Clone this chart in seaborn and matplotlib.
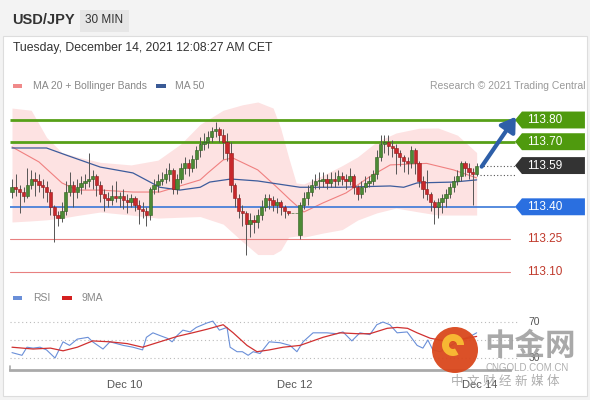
import matplotlib
matplotlib.use("Agg")
import matplotlib.pyplot as plt
import seaborn as sns
from matplotlib.patches import Polygon, Rectangle, Circle, Wedge
from matplotlib.transforms import IdentityTransform

# ---- data (30 min candles, USD/JPY) ----
opens = [113.47, 113.49, 113.48, 113.47, 113.45, 113.50, 113.53, 113.52, 113.50, 113.49,
         113.47, 113.40, 113.36, 113.35, 113.38, 113.47, 113.50, 113.47, 113.49, 113.51,
         113.52, 113.53, 113.54, 113.50, 113.46, 113.44, 113.43, 113.45, 113.44, 113.45,
         113.43, 113.42, 113.44, 113.41, 113.39, 113.38, 113.36, 113.48, 113.50, 113.52,
         113.53, 113.55, 113.57, 113.48, 113.53, 113.58, 113.60, 113.58, 113.62, 113.66,
         113.69, 113.70, 113.72, 113.75, 113.76, 113.73, 113.70, 113.65, 113.50, 113.44,
         113.38, 113.37, 113.32, 113.34, 113.33, 113.36, 113.40, 113.44, 113.43, 113.41,
         113.42, 113.40, 113.38, 113.37, 113.37, 113.27, 113.41, 113.44, 113.47, 113.50,
         113.52, 113.52, 113.53, 113.51, 113.53, 113.52, 113.54, 113.53, 113.52, 113.54,
         113.49, 113.46, 113.49, 113.51, 113.52, 113.55, 113.63, 113.69, 113.70, 113.68,
         113.67, 113.65, 113.63, 113.61, 113.60, 113.66, 113.60, 113.52, 113.48, 113.46,
         113.42, 113.40, 113.42, 113.44, 113.46, 113.49, 113.52, 113.54, 113.60, 113.58,
         113.56, 113.55]
closes = [113.49, 113.48, 113.47, 113.45, 113.50, 113.53, 113.52, 113.50, 113.49, 113.47,
          113.40, 113.36, 113.35, 113.38, 113.47, 113.50, 113.47, 113.49, 113.51, 113.52,
          113.53, 113.54, 113.50, 113.46, 113.44, 113.43, 113.45, 113.44, 113.45, 113.43,
          113.42, 113.44, 113.41, 113.39, 113.38, 113.36, 113.48, 113.50, 113.52, 113.53,
          113.55, 113.57, 113.48, 113.53, 113.58, 113.60, 113.58, 113.62, 113.66, 113.69,
          113.70, 113.72, 113.75, 113.76, 113.73, 113.70, 113.65, 113.50, 113.44, 113.38,
          113.37, 113.32, 113.34, 113.33, 113.36, 113.40, 113.44, 113.43, 113.41, 113.42,
          113.40, 113.38, 113.37, 113.37, 113.37, 113.41, 113.44, 113.47, 113.50, 113.52,
          113.52, 113.53, 113.51, 113.53, 113.52, 113.54, 113.53, 113.52, 113.54, 113.49,
          113.46, 113.49, 113.51, 113.52, 113.55, 113.63, 113.69, 113.70, 113.68, 113.67,
          113.65, 113.63, 113.61, 113.60, 113.66, 113.60, 113.52, 113.48, 113.46, 113.42,
          113.40, 113.42, 113.44, 113.46, 113.49, 113.52, 113.54, 113.60, 113.58, 113.56,
          113.55, 113.59]
highs = [113.53, 113.55, 113.50, 113.49, 113.58, 113.57, 113.56, 113.55, 113.53, 113.52,
         113.48, 113.41, 113.38, 113.42, 113.52, 113.56, 113.52, 113.53, 113.54, 113.55,
         113.65, 113.57, 113.55, 113.52, 113.48, 113.47, 113.50, 113.52, 113.47, 113.48,
         113.46, 113.46, 113.45, 113.43, 113.42, 113.40, 113.49, 113.53, 113.55, 113.56,
         113.58, 113.60, 113.58, 113.55, 113.60, 113.63, 113.62, 113.64, 113.68, 113.72,
         113.74, 113.75, 113.77, 113.79, 113.77, 113.76, 113.74, 113.70, 113.51, 113.46,
         113.41, 113.38, 113.37, 113.36, 113.39, 113.43, 113.46, 113.46, 113.45, 113.44,
         113.43, 113.41, 113.38, 113.37, 113.37, 113.42, 113.47, 113.50, 113.53, 113.55,
         113.56, 113.56, 113.55, 113.56, 113.56, 113.57, 113.56, 113.55, 113.58, 113.55,
         113.50, 113.52, 113.54, 113.54, 113.57, 113.66, 113.73, 113.73, 113.73, 113.71,
         113.69, 113.66, 113.64, 113.63, 113.68, 113.67, 113.61, 113.54, 113.57, 113.47,
         113.43, 113.44, 113.46, 113.48, 113.51, 113.54, 113.57, 113.61, 113.61, 113.60,
         113.58, 113.60]
lows = [113.44, 113.45, 113.37, 113.42, 113.44, 113.48, 113.45, 113.47, 113.44, 113.42,
        113.36, 113.24, 113.31, 113.33, 113.36, 113.45, 113.40, 113.44, 113.46, 113.48,
        113.49, 113.48, 113.45, 113.42, 113.38, 113.40, 113.41, 113.42, 113.40, 113.39,
        113.37, 113.40, 113.38, 113.32, 113.35, 113.31, 113.34, 113.46, 113.47, 113.50,
        113.51, 113.52, 113.46, 113.46, 113.51, 113.55, 113.54, 113.56, 113.58, 113.63,
        113.66, 113.67, 113.70, 113.72, 113.70, 113.62, 113.61, 113.47, 113.40, 113.35,
        113.31, 113.18, 113.26, 113.28, 113.30, 113.34, 113.38, 113.39, 113.38, 113.37,
        113.36, 113.35, 113.36, 113.37, 113.37, 113.25, 113.39, 113.41, 113.45, 113.48,
        113.48, 113.49, 113.48, 113.49, 113.49, 113.50, 113.50, 113.48, 113.50, 113.46,
        113.43, 113.44, 113.47, 113.49, 113.50, 113.53, 113.61, 113.65, 113.64, 113.63,
        113.55, 113.59, 113.56, 113.55, 113.58, 113.55, 113.49, 113.44, 113.43, 113.38,
        113.32, 113.35, 113.37, 113.40, 113.44, 113.47, 113.50, 113.52, 113.54, 113.53,
        113.41, 113.54]

# moving averages / bands, sampled at candle indices
ma20_idx = [0, 7, 13, 17, 23, 31.5, 38.5, 44.5, 49, 51, 55, 57.5, 64, 69, 72.5, 76, 81, 87, 93, 98.5, 108, 115, 121]
ma20_val = [113.676, 113.607, 113.51, 113.477, 113.477, 113.468, 113.468, 113.50, 113.524, 113.556,
            113.616, 113.625, 113.57, 113.49, 113.431, 113.376, 113.418, 113.464, 113.537, 113.593,
            113.60, 113.57, 113.533]
ma50_idx = [0, 9, 14, 23, 31.5, 38.5, 43.7, 49, 51.5, 57, 64, 75, 85.5, 98.5, 102, 105.5, 115, 121]
ma50_val = [113.671, 113.671, 113.639, 113.583, 113.556, 113.49, 113.477, 113.49, 113.514, 113.528,
            113.519, 113.49, 113.49, 113.496, 113.49, 113.51, 113.514, 113.524]
band_idx = [0, 5, 9, 13, 17, 23, 31, 38, 44, 49, 55, 60, 64, 68, 70, 72, 74, 76, 81, 86, 90, 95, 100, 106, 111, 116, 121]
band_up = [113.855, 113.845, 113.72, 113.65, 113.63, 113.605, 113.593, 113.615, 113.69, 113.78,
           113.845, 113.87, 113.883, 113.855, 113.76, 113.63, 113.51, 113.505, 113.545, 113.59,
           113.63, 113.70, 113.74, 113.762, 113.763, 113.73, 113.65]
band_lo = [113.33, 113.335, 113.34, 113.348, 113.36, 113.376, 113.362, 113.348, 113.352, 113.355,
           113.32, 113.24, 113.18, 113.18, 113.20, 113.26, 113.265, 113.26, 113.279, 113.295,
           113.339, 113.372, 113.394, 113.376, 113.362, 113.362, 113.362]

rsi_idx = [0, 2.6, 3.9, 5.5, 7.3, 9, 11.2, 13.3, 15, 17, 19.8, 21, 23.7, 25.5, 29, 31.5, 34, 35, 36.7,
           38.5, 40.4, 41.7, 43, 44.5, 46.4, 48, 50.8, 52.3, 54, 56, 56.8, 58.6, 60, 61.5, 62.8, 64.6,
           67, 69.8, 72.4, 74.2, 75.8, 78.4, 82, 84.6, 86.2, 88.5, 90.6, 93.2, 95, 96.6, 98.4, 100.3,
           102.9, 105.5, 107, 108.3, 109.6, 111.5, 114, 116.7, 119.3, 121]
rsi_val = [36, 33, 42, 41, 42, 39, 30, 48, 44, 51, 53, 48, 40, 48, 44, 42, 39, 53, 58,
           55, 52, 48, 55, 61, 59, 64, 69, 71, 61, 64, 42, 37, 37, 33, 37, 35,
           48, 47, 44, 37, 48, 58, 58, 57, 59, 49, 58, 56, 67, 70, 67, 58,
           59, 44, 41, 50, 39, 37, 43, 50, 54, 58]
ma9_idx = [0, 5.5, 10, 13.3, 17, 21, 25.5, 30, 34, 38.5, 43, 47, 50.8, 55, 57.6, 61.2, 63.8, 67, 70.6,
           75, 81, 85.4, 90, 93.2, 97.7, 100.3, 103, 105.5, 108.9, 114, 121]
ma9_val = [42, 40, 41, 38, 42, 49, 48, 46, 42, 48, 54, 58, 62, 67, 58, 44, 37, 39, 42,
           44, 53, 58, 57, 57, 63, 64, 63, 58, 52, 48, 54]

levels_green = [113.80, 113.70]
level_blue = 113.40
levels_red = [113.25, 113.10]
last_price = 113.59
tick_idx = [29.4, 73.7, 121.9]
tick_labels = ["Dec 10", "Dec 12", "Dec 14"]

sns.set_theme(style="white")
plt.rcParams['font.family'] = ['Liberation Sans', 'Noto Sans CJK SC', 'DejaVu Sans']

W, H = 590, 400
fig = plt.figure(figsize=(5.9, 4.0), dpi=100, facecolor='#f3f3f3')

def fx(px):
    return px / W

def fy(py):
    return 1 - py / H

# white panel
fig.add_artist(Rectangle((fx(3), fy(396)), fx(584), (360) / H, transform=fig.transFigure,
                         facecolor='white', edgecolor='#dddddd', lw=0.8, zorder=0))

# header
fig.text(fx(12), fy(20), "USD/JPY", fontsize=10.5, fontweight='bold', color='#333333', va='center')
fig.add_artist(Rectangle((fx(80), fy(32)), fx(49), 22 / H, transform=fig.transFigure,
                         facecolor='#e6e6e6', edgecolor='none'))
fig.text(fx(104.5), fy(20), "30 MIN", fontsize=8.5, color='#333333', va='center', ha='center')
fig.text(fx(13), fy(48), "Tuesday, December 14, 2021 12:08:27 AM CET", fontsize=8.8,
         color='#333333', va='center')

# legends
fig.add_artist(Rectangle((fx(13), fy(88)), fx(9), 4 / H, transform=fig.transFigure,
                         facecolor='#f08a8a', edgecolor='none'))
fig.text(fx(33), fy(86), "MA 20 + Bollinger Bands", fontsize=7.5, color='#888888', va='center')
fig.add_artist(Rectangle((fx(156), fy(88)), fx(10), 4 / H, transform=fig.transFigure,
                         facecolor='#3a5a96', edgecolor='none'))
fig.text(fx(175), fy(86), "MA 50", fontsize=7.5, color='#888888', va='center')
fig.text(fx(585), fy(86), "Research \u00a9 2021 Trading Central", fontsize=7.5, color='#999999',
         va='center', ha='right')
fig.add_artist(Rectangle((fx(13), fy(300)), fx(9), 4 / H, transform=fig.transFigure,
                         facecolor='#6a8fd8', edgecolor='none'))
fig.text(fx(33), fy(298), "RSI", fontsize=7.5, color='#888888', va='center')
fig.add_artist(Rectangle((fx(62), fy(300)), fx(10), 4 / H, transform=fig.transFigure,
                         facecolor='#d42020', edgecolor='none'))
fig.text(fx(82), fy(298), "9MA", fontsize=7.5, color='#888888', va='center')

# ---- price panel ----
ax = fig.add_axes([fx(10), fy(285), fx(580), 190 / H])
ax.set_xlim(-0.52, 150.52)
ax.set_ylim(113.0396, 113.9152)
ax.axis('off')

ax.fill_between(band_idx, band_lo, band_up, color='#fde2e2', lw=0, zorder=1)
sns.lineplot(x=ma20_idx, y=ma20_val, ax=ax, color='#f08080', lw=0.8, zorder=2)
sns.lineplot(x=ma50_idx, y=ma50_val, ax=ax, color='#3d5c9c', lw=0.9, zorder=2)

for lv in levels_green:
    ax.plot([-0.5, 131], [lv, lv], color='#57a018', lw=2, zorder=3, solid_capstyle='butt')
ax.plot([-0.5, 131], [level_blue, level_blue], color='#3a78d8', lw=1.2, zorder=3)
for lv in levels_red:
    ax.plot([-0.5, 129.7], [lv, lv], color='#e88080', lw=0.8, zorder=3)

idx = list(range(len(closes)))
ax.vlines(idx, lows, highs, color='#555555', lw=0.7, zorder=4)
bottoms = [min(o, c) for o, c in zip(opens, closes)]
heights = [max(abs(c - o), 0.003) for o, c in zip(opens, closes)]
colors = ['#4c8a35' if c >= o else '#c8282c' for o, c in zip(opens, closes)]
edges = ['#2f5e20' if c >= o else '#8e1c1c' for o, c in zip(opens, closes)]
ax.bar(idx, heights, bottom=bottoms, width=0.85, color=colors, edgecolor=edges, lw=0.4, zorder=5)

# dotted price markers
for lv in [last_price, 113.545]:
    ax.plot([121.9, 131], [lv, lv], color='#555555', lw=0.8, ls=(0, (1, 2)), zorder=3)

# label boxes
h = 0.039

def tag(price, text, face):
    ax.add_patch(Polygon([(131, price), (132.8, price + h), (149.2, price + h),
                          (149.2, price - h), (132.8, price - h)], closed=True,
                         facecolor=face, edgecolor='none', zorder=6))
    ax.text(134.2, price, text, color='white', fontsize=8.5, va='center', ha='left', zorder=7)

tag(113.80, "113.80", '#4f9a0e')
tag(113.70, "113.70", '#4f9a0e')
tag(last_price, "113.59", '#333333')
tag(113.40, "113.40", '#2a6fe0')
for lv in levels_red:
    ax.text(134.2, lv, f"{lv:.2f}", color='#c0392b', fontsize=8.5, va='center', ha='left')

ax.annotate("", xy=(131.2, 113.815), xytext=(122.3, 113.585),
            arrowprops=dict(arrowstyle='-|>,head_width=0.45,head_length=0.7', color='#2e5fa8',
                            lw=3, shrinkA=0, shrinkB=0), zorder=8)

# ---- RSI panel ----
ax2 = fig.add_axes([fx(10), fy(370), fx(580), 80 / H])
ax2.set_xlim(-0.52, 150.52)
ax2.set_ylim(16.67, 105.6)
for s in ['top', 'right', 'left']:
    ax2.spines[s].set_visible(False)
ax2.spines['bottom'].set_color('#aaaaaa')
ax2.spines['bottom'].set_linewidth(2)
ax2.spines['bottom'].set_bounds(-0.5, 129.7)
ax2.set_yticks([])
ax2.set_xticks(tick_idx, tick_labels)
ax2.tick_params(axis='x', length=0, pad=7, labelsize=8, labelcolor='#555555')
ax2.set_facecolor('none')

for lv in [70, 50, 30]:
    ax2.plot([-0.5, 132], [lv, lv], color='#bbbbbb', lw=0.8, ls=(0, (1, 2.5)))
sns.lineplot(x=rsi_idx, y=rsi_val, ax=ax2, color='#6a8fd8', lw=0.8)
sns.lineplot(x=ma9_idx, y=ma9_val, ax=ax2, color='#d03030', lw=0.9)
ax2.text(134.5, 70, "70", fontsize=7.5, color='#555555', va='center')
ax2.text(134.5, 30, "30", fontsize=7.5, color='#555555', va='center')
ax2.plot([-0.4, -0.4], [16.67, 21], color='#aaaaaa', lw=1.2, clip_on=False)

# ---- watermark ----
fig.add_artist(Circle((455, H - 350), 23, transform=IdentityTransform(),
                      facecolor='#d9471c', edgecolor='none', zorder=20, alpha=0.95))
fig.add_artist(Wedge((453, H - 345), 11, 0, 300, width=7, transform=IdentityTransform(),
                     facecolor='#f7b733', edgecolor='none', zorder=21))
fig.text(fx(530), fy(347), "中金网", fontsize=22, fontweight='bold', color='#9a9a9a',
         ha='center', va='center', alpha=0.85, zorder=20)
fig.text(fx(527), fy(368), "CNGOLD.COM.CN", fontsize=7, color='#a0a0a0',
         ha='center', va='center', alpha=0.85, zorder=20)
fig.text(fx(505), fy(382), "中 文 财 经 新 媒 体", fontsize=9, color='#a0a0a0',
         ha='center', va='center', alpha=0.85, zorder=20)

fig.savefig("out.png", dpi=100, facecolor=fig.get_facecolor())
